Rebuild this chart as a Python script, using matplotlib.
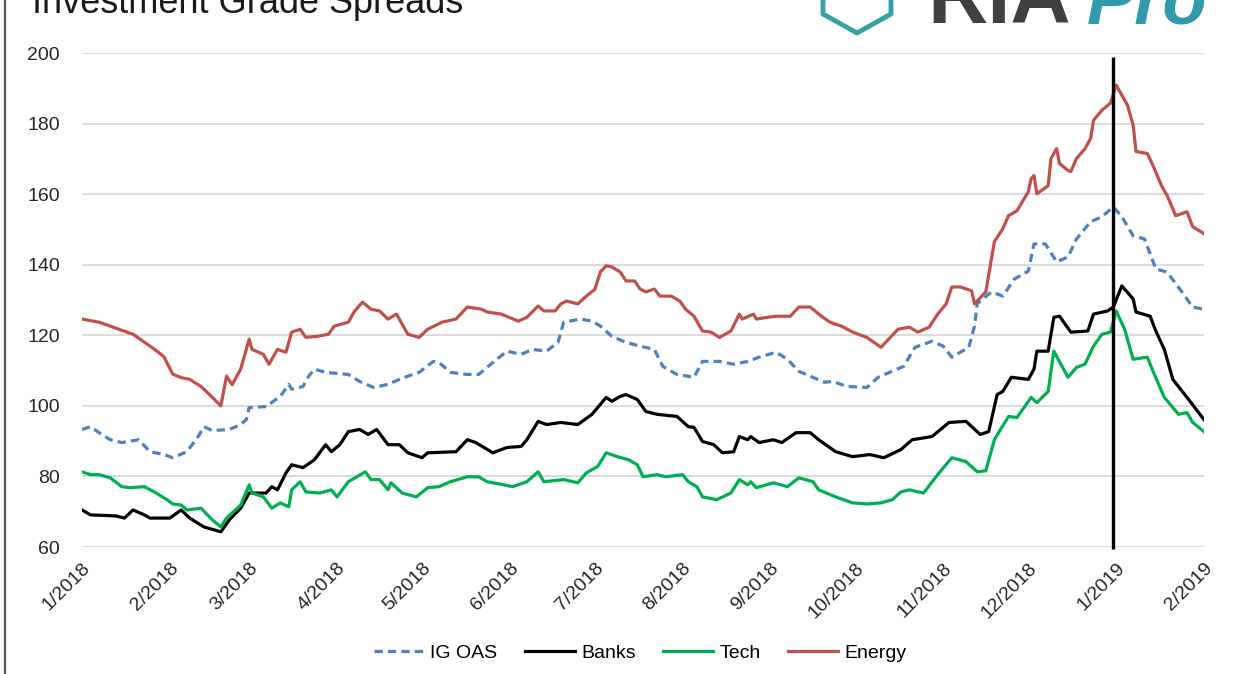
import numpy as np
import matplotlib.pyplot as plt
import matplotlib.dates as mdates
from matplotlib.lines import Line2D
from matplotlib.ticker import FuncFormatter

# data: day offset from 1/1/2018 and spread in bp
inicio = np.datetime64('2018-01-01')

ig_dias = [0, 3, 6, 10, 14, 20, 24, 29, 32, 37, 41, 43, 46, 52, 56, 58, 59, 65, 70, 73, 74, 78, 80, 82, 86, 94,
           98, 103, 108, 112, 115, 119, 124, 126, 130, 136, 140, 145, 150, 155, 159, 164, 168, 170, 176, 180, 183,
           187, 192, 197, 202, 205, 210, 216, 219, 225, 230, 235, 239, 245, 249, 253, 257, 262, 265, 270, 277, 281,
           285, 290, 294, 300, 304, 307, 310, 313, 315, 316, 321, 325, 329, 334, 336, 340, 344, 348, 351, 356, 360,
           364, 367, 371, 375, 379, 383, 388, 392, 396]
ig_val = [93.3, 94.1, 92.4, 90.4, 89.6, 90.4, 87, 86.2, 85.3, 87, 91.3, 94.1, 93, 93.3, 94.7, 96.1, 99.5, 99.8,
          102.7, 106.1, 104.7, 105.5, 108.4, 110.4, 109.5, 108.9, 106.9, 105.2, 106.1, 107.5, 108.4, 109.5, 112.6,
          112.3, 109.5, 108.9, 108.9, 112.3, 115.5, 114.6, 116, 115.5, 118, 123.7, 124.6, 124, 122.6, 119.7, 118,
          116.9, 116, 111.2, 108.9, 108.1, 112.6, 112.6, 111.8, 112.6, 113.8, 115.2, 113.2, 109.8, 108.4, 106.7,
          106.9, 105.5, 105.2, 108.1, 109.5, 111.2, 116.6, 118.3, 116.9, 113.8, 115.2, 116.6, 122.6, 129, 132.3,
          131.1, 135.9, 138.2, 145.9, 145.9, 140.8, 142.2, 147.3, 152.2, 153.6, 156.4, 153.6, 148.2, 147.3, 138.8,
          137.9, 132.5, 128, 127.4]

banks_dias = [0, 3, 12, 15, 18, 22, 24, 31, 35, 38, 43, 49, 52, 56, 59, 65, 67, 69, 72, 74, 78, 82, 86, 88, 91,
              94, 98, 101, 104, 108, 112, 115, 120, 122, 132, 136, 139, 145, 150, 155, 157, 161, 164, 169, 175, 180,
              185, 187, 190, 192, 196, 199, 203, 210, 214, 216, 219, 223, 226, 230, 232, 235, 236, 239, 244, 247,
              252, 257, 260, 266, 272, 278, 283, 289, 293, 300, 306, 312, 317, 320, 323, 325, 328, 334, 336, 337,
              341, 343, 345, 349, 355, 357, 362, 364, 367, 371, 372, 377, 379, 382, 385, 390, 396]
banks_val = [70.5, 69.1, 68.8, 68.2, 70.5, 69.1, 68.2, 68.2, 70.5, 68.2, 65.7, 64.3, 67.7, 71, 75.3, 75.3, 77.1,
             76.2, 81, 83.3, 82.5, 84.7, 89, 87, 89, 92.7, 93.3, 91.9, 93.3, 89, 89, 86.7, 85.3, 86.7, 87, 90.4,
             89.6, 86.7, 88.2, 88.5, 90.4, 95.6, 94.7, 95.3, 94.7, 97.6, 102.4, 101.3, 102.7, 103.2, 101.8, 98.4,
             97.6, 97, 94.1, 93.9, 89.9, 89, 86.7, 87, 91.3, 90.4, 91.3, 89.6, 90.4, 89.6, 92.4, 92.4, 90.4, 87,
             85.6, 86.2, 85.3, 87.6, 90.4, 91.3, 95.3, 95.6, 91.9, 92.7, 103.2, 104.1, 108.1, 107.5, 110.4, 115.5,
             115.5, 125.1, 125.4, 120.9, 121.2, 126, 126.9, 128, 134, 130.3, 126.6, 125.4, 121.2, 116, 107.5, 102.4,
             96.1]

tech_dias = [0, 3, 6, 10, 14, 17, 22, 26, 30, 32, 35, 37, 42, 46, 49, 51, 56, 59, 60, 64, 67, 70, 73, 74, 77, 79,
             84, 88, 90, 94, 97, 100, 102, 105, 108, 109, 113, 118, 122, 126, 130, 136, 140, 143, 149, 152, 157, 161,
             163, 170, 175, 178, 182, 185, 189, 193, 196, 198, 203, 206, 212, 214, 217, 219, 224, 229, 232, 235, 236,
             238, 244, 249, 253, 258, 260, 266, 272, 277, 282, 286, 289, 292, 297, 302, 307, 312, 316, 319, 322, 327,
             330, 335, 337, 341, 343, 348, 351, 354, 357, 360, 363, 365, 368, 371, 376, 378, 382, 387, 390, 392, 396]
tech_val = [81.3, 80.5, 80.5, 79.6, 77.1, 76.8, 77.1, 75.4, 73.4, 72.2, 71.9, 70.5, 71, 67.7, 65.7, 68.2, 71.9,
            77.6, 75.3, 74.2, 71, 72.5, 71.4, 76.2, 78.5, 75.6, 75.3, 76.2, 74.2, 78.5, 79.9, 81.3, 79.1, 79.1, 76.2,
            78.2, 75.3, 74.2, 76.8, 77.1, 78.5, 79.9, 79.9, 78.5, 77.6, 77.1, 78.5, 81.3, 78.5, 79.1, 78.2, 81, 82.8,
            86.7, 85.6, 84.7, 83.3, 79.9, 80.5, 79.9, 80.5, 78.5, 77.1, 74.2, 73.4, 75.3, 79.1, 77.6, 78.5, 76.8,
            78.2, 77.1, 79.6, 78.5, 76.2, 74.2, 72.5, 72.2, 72.5, 73.4, 75.6, 76.2, 75.3, 80.5, 85.3, 84.2, 81.3,
            81.6, 90.4, 97, 96.7, 102.4, 100.9, 104.1, 115.5, 108.1, 110.9, 111.8, 116.9, 120.3, 120.9, 126.9, 121.7,
            113.2, 113.8, 109.8, 102.4, 97.6, 98.1, 95.3, 92.7]

energy_dias = [0, 6, 10, 13, 18, 23, 27, 29, 32, 35, 38, 42, 45, 49, 51, 53, 56, 59, 60, 64, 66, 69, 72, 74, 77,
               79, 83, 87, 89, 94, 96, 99, 102, 105, 108, 111, 115, 119, 122, 127, 132, 136, 141, 143, 148, 154, 157,
               161, 163, 167, 169, 171, 175, 178, 181, 183, 185, 187, 190, 192, 195, 197, 199, 202, 204, 208, 211,
               213, 216, 219, 222, 225, 229, 232, 233, 237, 238, 242, 245, 250, 253, 257, 261, 264, 268, 272, 277,
               282, 288, 292, 295, 299, 302, 305, 307, 310, 314, 315, 319, 322, 325, 327, 330, 334, 335, 336, 337,
               341, 342, 344, 345, 348, 349, 351, 354, 356, 357, 360, 363, 365, 369, 371, 372, 376, 378, 381, 383,
               386, 390, 392, 396]
energy_val = [124.6, 123.7, 122.6, 121.7, 120.3, 117.5, 115.2, 113.8, 109, 108, 107.5, 105.5, 103.2, 100, 108.4,
              106, 110.4, 118.9, 116, 114.6, 111.8, 116, 115.2, 120.9, 121.7, 119.4, 119.7, 120.3, 122.6, 123.7,
              126.6, 129.4, 127.4, 126.9, 124.6, 126, 120.3, 119.4, 121.7, 123.7, 124.6, 128, 127.4, 126.6, 126,
              124, 125.1, 128.3, 126.9, 126.9, 128.9, 129.7, 128.9, 131.1, 133, 138, 139.7, 139.4, 137.9, 135.4,
              135.4, 133.1, 132.3, 133.1, 131.1, 131.1, 129.7, 127.4, 125.4, 121.2, 120.9, 119.4, 121.2, 126, 124.6,
              126, 124.6, 125.1, 125.4, 125.4, 128, 128, 125.4, 123.7, 122.6, 120.9, 119.4, 116.6, 121.7, 122.3,
              120.9, 122.3, 126, 128.9, 133.7, 133.7, 132.6, 128.9, 132.3, 146.5, 150.2, 153.9, 155.3, 160.7, 164.4,
              165.3, 160.1, 162.4, 170.1, 172.9, 168.7, 166.7, 166.4, 170.1, 172.9, 175.8, 180.9, 183.8, 185.8,
              190.9, 185.2, 179.5, 172.1, 171.5, 168.1, 162.4, 159.6, 153.9, 155, 150.8, 148.8]

series = [
    ('IG OAS', ig_dias, ig_val, '#4f81bd', (0, (2.6, 1.6))),
    ('Banks', banks_dias, banks_val, '#000000', '-'),
    ('Tech', tech_dias, tech_val, '#00b050', '-'),
    ('Energy', energy_dias, energy_val, '#c0504d', '-'),
]

linha_data = np.datetime64('2018-12-31')
y_min, y_max = 60, 200

plt.rcParams['font.family'] = ['Liberation Sans', 'DejaVu Sans']

fig = plt.figure(figsize=(12.43, 6.74), dpi=100)
ax = fig.add_axes([82 / 1243, 1 - 547 / 674, (1204 - 82) / 1243, (547 - 53) / 674])

for nome, dias, vals, cor, estilo in series:
    datas = inicio + np.array(dias).astype('timedelta64[D]')
    ax.plot(datas, vals, color=cor, lw=2.3, linestyle=estilo, label=nome)

# vertical marker at the turn of the year
ax.vlines(linha_data, 59.3, 199, color='black', lw=2.4, clip_on=False, zorder=5)

ax.set_ylim(y_min, y_max)
ax.set_xlim(inicio, np.datetime64('2019-02-01'))
ax.set_yticks(range(60, 201, 20))
ax.xaxis.set_major_locator(mdates.MonthLocator())
ax.xaxis.set_major_formatter(FuncFormatter(lambda v, p: f"{mdates.num2date(v).month}/{mdates.num2date(v).year}"))

ax.grid(axis='y', color='#d9d9d9', lw=1.3)
ax.set_axisbelow(True)
for s in ax.spines.values():
    s.set_visible(False)
ax.tick_params(axis='y', length=0, pad=16, labelsize=14, labelcolor='#262626')
ax.tick_params(axis='x', length=0, pad=9, labelsize=14, labelcolor='#262626')
for t in ax.get_xticklabels():
    t.set_rotation(45)
    t.set_ha('right')
    t.set_rotation_mode('anchor')

fig.legend(loc='center', bbox_to_anchor=(640 / 1243, 1 - 653 / 674), ncol=4, frameon=False,
           fontsize=14, handlelength=2.6, handletextpad=0.3, columnspacing=1.4)

# title and logo, cut off at the top like the source image
fig.text(32 / 1243, 1 - 13 / 674, 'Investment Grade Spreads', fontsize=26, va='baseline', color='#1a1a1a')
fig.text(927 / 1243, 1 - 23 / 674, 'RIA', fontsize=60, fontweight='bold', va='baseline', color='#404042')
fig.text(1087 / 1243, 1 - 23 / 674, 'Pro', fontsize=52, fontweight='bold', fontstyle='italic',
         va='baseline', color='#3399ad')
escudo_x = np.array([823, 823, 857, 891, 891]) / 1243
escudo_y = 1 - np.array([-5, 14, 33, 14, -5]) / 674
fig.add_artist(Line2D(escudo_x, escudo_y, color='#35a1a6', lw=3.5, transform=fig.transFigure))

# left border of the chart box
fig.add_artist(Line2D([5 / 1243, 5 / 1243], [0, 1], color='#595959', lw=1.6, transform=fig.transFigure))

fig.savefig('out.png', dpi=100)
